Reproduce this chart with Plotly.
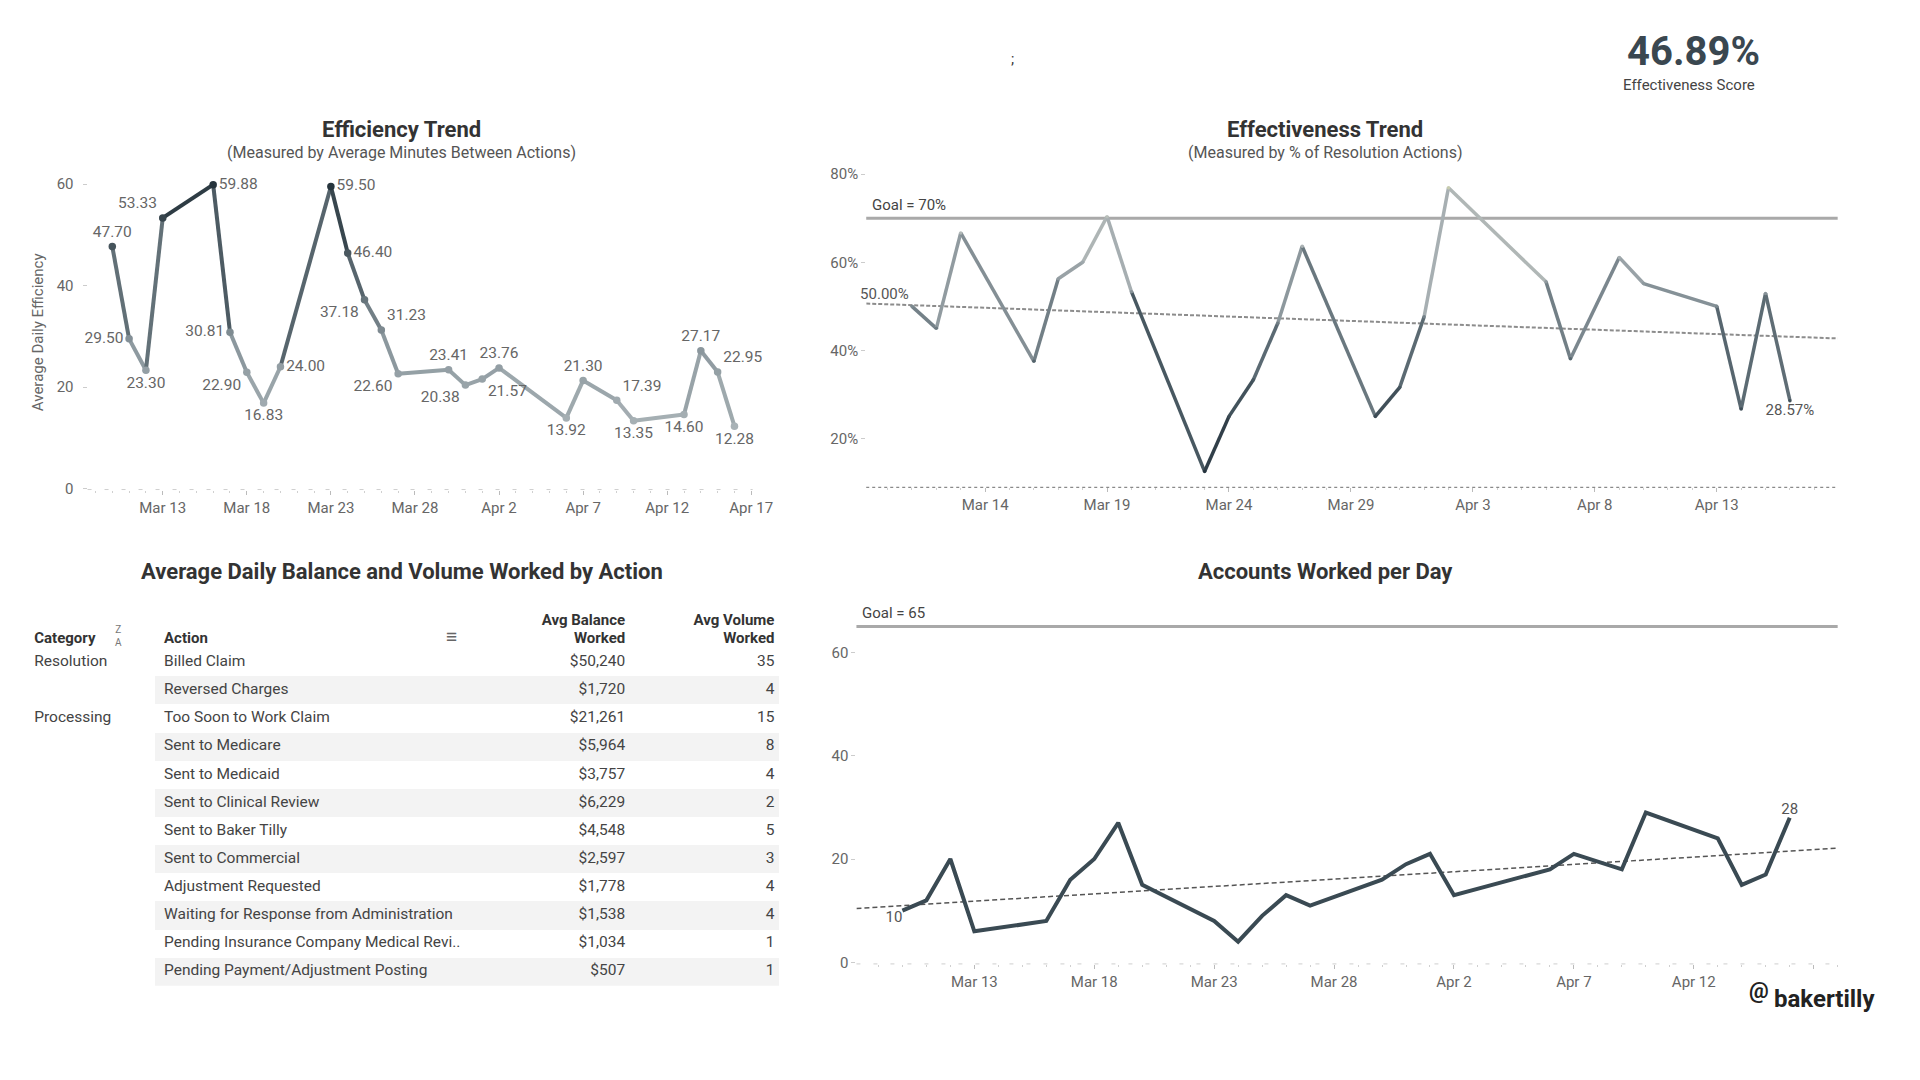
import numpy as np
import pandas as pd
import plotly.graph_objects as go
from plotly.colors import sample_colorscale

# ---------------- data ----------------
eff_dates = ["2020-03-10", "2020-03-11", "2020-03-12", "2020-03-13", "2020-03-16", "2020-03-17",
             "2020-03-18", "2020-03-19", "2020-03-20", "2020-03-23", "2020-03-24", "2020-03-25",
             "2020-03-26", "2020-03-27", "2020-03-30", "2020-03-31", "2020-04-01", "2020-04-02",
             "2020-04-06", "2020-04-07", "2020-04-09", "2020-04-10", "2020-04-13", "2020-04-14",
             "2020-04-15", "2020-04-16"]
eff_values = [47.70, 29.50, 23.30, 53.33, 59.88, 30.81, 22.90, 16.83, 24.00, 59.50, 46.40, 37.18,
              31.23, 22.60, 23.41, 20.38, 21.57, 23.76, 13.92, 21.30, 17.39, 13.35, 14.60, 27.17,
              22.95, 12.28]
eff_tickvals = ["2020-03-13", "2020-03-18", "2020-03-23", "2020-03-28", "2020-04-02", "2020-04-07",
                "2020-04-12", "2020-04-17"]
eff_ticktext = ["Mar 13", "Mar 18", "Mar 23", "Mar 28", "Apr 2", "Apr 7", "Apr 12", "Apr 17"]
eff_ytickvals = [0, 20, 40, 60]

res_dates = ["2020-03-11", "2020-03-12", "2020-03-13", "2020-03-16", "2020-03-17", "2020-03-18",
             "2020-03-19", "2020-03-20", "2020-03-23", "2020-03-24", "2020-03-25", "2020-03-26",
             "2020-03-27", "2020-03-30", "2020-03-31", "2020-04-01", "2020-04-02", "2020-04-06",
             "2020-04-07", "2020-04-09", "2020-04-10", "2020-04-13", "2020-04-14", "2020-04-15",
             "2020-04-16"]
res_values = [50.00, 45.00, 66.67, 37.50, 56.25, 60.00, 70.37, 53.33, 12.50, 25.00, 33.33, 46.15,
              63.64, 25.00, 31.58, 47.62, 76.92, 55.56, 38.10, 61.11, 55.17, 50.00, 26.67, 52.94, 28.57]
res_goal = 70
res_tickvals = ["2020-03-14", "2020-03-19", "2020-03-24", "2020-03-29", "2020-04-03", "2020-04-08",
                "2020-04-13"]
res_ticktext = ["Mar 14", "Mar 19", "Mar 24", "Mar 29", "Apr 3", "Apr 8", "Apr 13"]
res_ytickvals = [20, 40, 60, 80]
res_yticktext = ["20%", "40%", "60%", "80%"]

acc_dates = eff_dates
acc_values = [10, 12, 20, 6, 8, 16, 20, 27, 15, 8, 4, 9, 13, 11, 16, 19, 21, 13, 18, 21, 18, 29, 24,
              15, 17, 28]
acc_goal = 65
acc_tickvals = ["2020-03-13", "2020-03-18", "2020-03-23", "2020-03-28", "2020-04-02", "2020-04-07",
                "2020-04-12", "2020-04-17"]
acc_ticktext = ["Mar 13", "Mar 18", "Mar 23", "Mar 28", "Apr 2", "Apr 7", "Apr 12", ""]
acc_ytickvals = [0, 20, 40, 60]

kpi_text = "46.89%"

tbl_headers = ["Category", "Action", "Avg Balance", "Worked", "Avg Volume", "Worked"]
tbl_category = ["Resolution", "", "Processing", "", "", "", "", "", "", "", "", ""]
tbl_action = ["Billed Claim", "Reversed Charges", "Too Soon to Work Claim", "Sent to Medicare",
              "Sent to Medicaid", "Sent to Clinical Review", "Sent to Baker Tilly", "Sent to Commercial",
              "Adjustment Requested", "Waiting for Response from Administration",
              "Pending Insurance Company Medical Revi..", "Pending Payment/Adjustment Posting"]
tbl_balance = [50240, 1720, 21261, 5964, 3757, 6229, 4548, 2597, 1778, 1538, 1034, 507]
tbl_volume = [35, 4, 15, 8, 4, 2, 5, 3, 4, 4, 1, 1]

# ---------------- styles / helpers ----------------
FONT = "Roboto, 'Open Sans', sans-serif"
DAY = 86400000
W, H = 1920, 1080

eff_label_pos = ["top center", "middle left", "bottom center", "top left", "middle right", "middle left",
                 "bottom left", "bottom center", "middle right", "middle right", "middle right", "bottom left",
                 "top right", "bottom left", "top center", "bottom left", "bottom right", "top center",
                 "bottom center", "top center", "top right", "bottom center", "bottom center", "top center",
                 "top right", "bottom center"]


def px(x):
    return x / W


def py(y):
    return 1 - y / H


def trend(dates, vals, x0, x1):
    base = pd.Timestamp("2020-03-01")
    d = ((pd.to_datetime(dates) - base) / pd.Timedelta(days=1)).values.astype(float)
    k, b = np.polyfit(d, np.asarray(vals, dtype=float), 1)
    xs = pd.to_datetime([x0, x1])
    ds = ((xs - base) / pd.Timedelta(days=1)).values.astype(float)
    return xs, k * ds + b


fig = go.Figure()

# ---------------- Efficiency trend ----------------
cs_eff = [[0, "#a9b2b6"], [0.3, "#8e9aa0"], [0.6, "#5a6870"], [0.85, "#38464e"], [1, "#26343c"]]
e_min, e_max = 12, 60
ex = pd.to_datetime(eff_dates)
for i in range(len(eff_values) - 1):
    m = (eff_values[i] + eff_values[i + 1]) / 2
    col = sample_colorscale(cs_eff, [min(max((m - e_min) / (e_max - e_min), 0), 1)])[0]
    fig.add_trace(go.Scatter(x=[ex[i], ex[i + 1]], y=[eff_values[i], eff_values[i + 1]], mode="lines",
                             line=dict(color=col, width=4), xaxis="x", yaxis="y",
                             hoverinfo="skip", showlegend=False))
fig.add_trace(go.Scatter(x=ex, y=eff_values, mode="markers+text",
                         marker=dict(size=7.5, color=eff_values, colorscale=cs_eff, cmin=e_min, cmax=e_max),
                         text=[f"{v:.2f}" for v in eff_values], textposition=eff_label_pos,
                         textfont=dict(size=15.5, color="#666", family=FONT),
                         xaxis="x", yaxis="y", hoverinfo="skip", showlegend=False, cliponaxis=False))

# ---------------- Effectiveness trend ----------------
res_range = ["2020-03-09 03:00", "2020-04-17 23:00"]
cs_res = [[0.0, "#22303a"], [0.35, "#4b5b64"], [0.55, "#77848b"], [0.75, "#a8b0b3"],
          [0.88, "#bcc1bb"], [1.0, "#ccd0a6"]]
r_min, r_max = 10, 80
rx = pd.to_datetime(res_dates)
tx, ty = trend(res_dates, res_values, res_range[0], res_range[1])
fig.add_trace(go.Scatter(x=tx, y=ty, mode="lines", line=dict(color="#8c8c8c", width=2, dash="4px,2px"),
                         xaxis="x2", yaxis="y2", hoverinfo="skip", showlegend=False))
for i in range(len(res_values) - 1):
    m = (res_values[i] + res_values[i + 1]) / 2
    col = sample_colorscale(cs_res, [min(max((m - r_min) / (r_max - r_min), 0), 1)])[0]
    fig.add_trace(go.Scatter(x=[rx[i], rx[i + 1]], y=[res_values[i], res_values[i + 1]], mode="lines",
                             line=dict(color=col, width=3.5), xaxis="x2", yaxis="y2",
                             hoverinfo="skip", showlegend=False))
n_r = len(res_values)
fig.add_trace(go.Scatter(x=rx, y=res_values, mode="markers+text",
                         marker=dict(size=3.5, color=res_values, colorscale=cs_res, cmin=r_min, cmax=r_max),
                         text=[f"{v:.2f}%" if i in (0, n_r - 1) else "" for i, v in enumerate(res_values)],
                         textposition=["top left"] + ["top center"] * (n_r - 2) + ["bottom center"],
                         textfont=dict(size=15, color="#555", family=FONT),
                         xaxis="x2", yaxis="y2", hoverinfo="skip", showlegend=False, cliponaxis=False))

# ---------------- Accounts worked per day ----------------
acc_range = ["2020-03-08 02:00", "2020-04-18 00:00"]
axd = pd.to_datetime(acc_dates)
tx, ty = trend(acc_dates, acc_values, acc_range[0], acc_range[1])
fig.add_trace(go.Scatter(x=tx, y=ty, mode="lines", line=dict(color="#555", width=1.5, dash="5px,3px"),
                         xaxis="x3", yaxis="y3", hoverinfo="skip", showlegend=False))
n_a = len(acc_values)
fig.add_trace(go.Scatter(x=axd, y=acc_values, mode="lines+text",
                         line=dict(color="#3a4a53", width=4),
                         text=[str(v) if i in (0, n_a - 1) else "" for i, v in enumerate(acc_values)],
                         textposition=["bottom left"] + ["top center"] * (n_a - 1),
                         textfont=dict(size=15, color="#555", family=FONT),
                         xaxis="x3", yaxis="y3", hoverinfo="skip", showlegend=False, cliponaxis=False))

# ---------------- Table (drawn on its own row axis) ----------------
TBL_W = 800
rows = list(range(len(tbl_action)))
odd_rows = [r for r in rows if r % 2 == 1]
COL_CAT, COL_ACT, COL_BAL, COL_VOL = 34.6, 165.8, 632.1, 783.0
BAND_L, BAND_R = 157.1, 788.0
fig.add_trace(go.Bar(y=odd_rows, x=[BAND_R - BAND_L] * len(odd_rows), base=BAND_L, orientation="h",
                     width=1.0, marker=dict(color="#f3f3f3", line=dict(width=0)),
                     xaxis="x4", yaxis="y4", hoverinfo="skip", showlegend=False))
cell_font = dict(size=15.5, color="#444", family=FONT)
fig.add_trace(go.Scatter(x=[COL_CAT] * len(rows), y=rows, text=tbl_category, mode="text",
                         textposition="middle right", textfont=cell_font,
                         xaxis="x4", yaxis="y4", hoverinfo="skip", showlegend=False, cliponaxis=False))
fig.add_trace(go.Scatter(x=[COL_ACT] * len(rows), y=rows, text=tbl_action, mode="text",
                         textposition="middle right", textfont=cell_font,
                         xaxis="x4", yaxis="y4", hoverinfo="skip", showlegend=False, cliponaxis=False))
fig.add_trace(go.Scatter(x=[COL_BAL] * len(rows), y=rows, text=[f"${v:,}" for v in tbl_balance],
                         mode="text", textposition="middle left", textfont=cell_font,
                         xaxis="x4", yaxis="y4", hoverinfo="skip", showlegend=False, cliponaxis=False))
fig.add_trace(go.Scatter(x=[COL_VOL] * len(rows), y=rows, text=[str(v) for v in tbl_volume],
                         mode="text", textposition="middle left", textfont=cell_font,
                         xaxis="x4", yaxis="y4", hoverinfo="skip", showlegend=False, cliponaxis=False))
HDR1, HDR2 = -1.434, -0.826
fig.add_trace(go.Scatter(x=[COL_CAT, COL_ACT, COL_BAL, COL_BAL, COL_VOL, COL_VOL],
                         y=[HDR2, HDR2, HDR1, HDR2, HDR1, HDR2],
                         text=[f"<b>{h}</b>" for h in tbl_headers], mode="text",
                         textposition=["middle right", "middle right", "middle left", "middle left",
                                       "middle left", "middle left"],
                         textfont=dict(size=15, color="#333", family=FONT),
                         xaxis="x4", yaxis="y4", hoverinfo="skip", showlegend=False, cliponaxis=False))

# ---------------- axes ----------------
tickfont = dict(size=15, color="#666", family=FONT)
common_x = dict(type="date", showgrid=False, zeroline=False, showline=False, ticks="outside",
                ticklen=4, tickcolor="#bbb", tickfont=tickfont, fixedrange=True)
common_y = dict(showgrid=False, zeroline=False, showline=False, ticks="outside", ticklen=4,
                tickcolor="#ccc", tickfont=tickfont, fixedrange=True)
minor = dict(ticks="outside", ticklen=2, tickcolor="#d0d0d0", dtick=DAY, tick0="2020-03-01")

fig.update_layout(
    width=W, height=H, margin=dict(l=0, r=0, t=0, b=0),
    paper_bgcolor="white", plot_bgcolor="rgba(0,0,0,0)", showlegend=False, bargap=0,
    font=dict(family=FONT, color="#444"),
    xaxis=dict(common_x, domain=[px(88.5), px(761)], range=["2020-03-08 12:40", "2020-04-17 02:00"],
               tickvals=eff_tickvals, ticktext=eff_ticktext, anchor="y", minor=minor),
    yaxis=dict(common_y, domain=[py(491.0), py(171.8)], range=[-0.2, 62], tickvals=eff_ytickvals,
               anchor="x", ticklabelstandoff=6),
    xaxis2=dict(common_x, domain=[px(875.8), px(1858)], range=res_range,
                tickvals=res_tickvals, ticktext=res_ticktext, anchor="y2", minor=minor),
    yaxis2=dict(common_y, domain=[py(488.8), py(167.7)], range=[8.88, 81], tickvals=res_ytickvals,
                ticktext=res_yticktext, anchor="x2"),
    xaxis3=dict(common_x, domain=[px(865.9), px(1858)], range=acc_range,
                tickvals=acc_tickvals, ticktext=acc_ticktext, anchor="y3", minor=minor),
    yaxis3=dict(common_y, domain=[py(970.7), py(621.6)], range=[-0.3, 66.5], tickvals=acc_ytickvals,
                anchor="x3"),
    xaxis4=dict(domain=[0, px(TBL_W)], range=[0, TBL_W], visible=False, fixedrange=True, anchor="y4"),
    yaxis4=dict(domain=[py(992.7), py(608.6)], range=[11.5, -2.0], visible=False, fixedrange=True,
                anchor="x4"),
)

# baselines and goal lines
fig.add_shape(type="line", xref="x domain", yref="y domain", x0=0, x1=1, y0=0, y1=0,
              line=dict(color="#cfcfcf", width=1, dash="4px,13px"))
fig.add_shape(type="line", xref="x2 domain", yref="y2 domain", x0=0, x1=1, y0=0, y1=0,
              line=dict(color="#8a8a8a", width=1.2, dash="dot"))
fig.add_shape(type="line", xref="x3 domain", yref="y3 domain", x0=0, x1=1, y0=0, y1=0,
              line=dict(color="#cfcfcf", width=1, dash="4px,13px"))
fig.add_shape(type="line", xref="x2 domain", yref="y2", x0=0, x1=1, y0=res_goal, y1=res_goal,
              line=dict(color="#a9a9a9", width=3), layer="below")
fig.add_shape(type="line", xref="x3 domain", yref="y3", x0=0, x1=1, y0=acc_goal, y1=acc_goal,
              line=dict(color="#a9a9a9", width=3), layer="below")

# ---------------- annotations ----------------
ann = []


def text(x, y, s, size, color="#333", xanchor="center", yanchor="middle", **kw):
    ann.append(dict(x=px(x), y=py(y), xref="paper", yref="paper", text=s, showarrow=False,
                    xanchor=xanchor, yanchor=yanchor,
                    font=dict(size=size, color=color, family=FONT), **kw))


text(405.7, 126.6, "<b>Efficiency Trend</b>", 22)
text(405.7, 150.2, "(Measured by Average Minutes Between Actions)", 16, "#555")
text(1339.7, 126.6, "<b>Effectiveness Trend</b>", 22)
text(1339.7, 150.2, "(Measured by % of Resolution Actions)", 16, "#555")
text(406.3, 574.0, "<b>Average Daily Balance and Volume Worked by Action</b>", 22)
text(1340.3, 574.0, "<b>Accounts Worked per Day</b>", 22)
text(1712, 48, f"<b>{kpi_text}</b>", 40, "#3a4750")
text(1708, 82, "Effectiveness Score", 15, "#444")
text(1024, 55.7, ";", 15, "#333")
text(38.3, 332, "Average Daily Efficiency", 15, "#666", textangle=-90)
text(120, 639, "Z<br>A", 10, "#777")
text(456.5, 639.5, "≡", 19, "#666")
text(1778, 998, "<b>@</b>", 22, "#222")
text(1792, 1005.7, "<b>bakertilly</b>", 24, "#222", xanchor="left")

ann.append(dict(x=0.004, y=res_goal, xref="x2 domain", yref="y2", text=f"Goal = {res_goal}%",
                showarrow=False, xanchor="left", yanchor="bottom", yshift=2,
                font=dict(size=15, color="#444", family=FONT)))
ann.append(dict(x=0.004, y=acc_goal, xref="x3 domain", yref="y3", text=f"Goal = {acc_goal}",
                showarrow=False, xanchor="left", yanchor="bottom", yshift=2,
                font=dict(size=15, color="#444", family=FONT)))
fig.update_layout(annotations=ann)

fig.write_html("out.html", config={"displayModeBar": False},
               post_script="document.body.style.margin='0px';document.body.style.overflow='hidden';")
